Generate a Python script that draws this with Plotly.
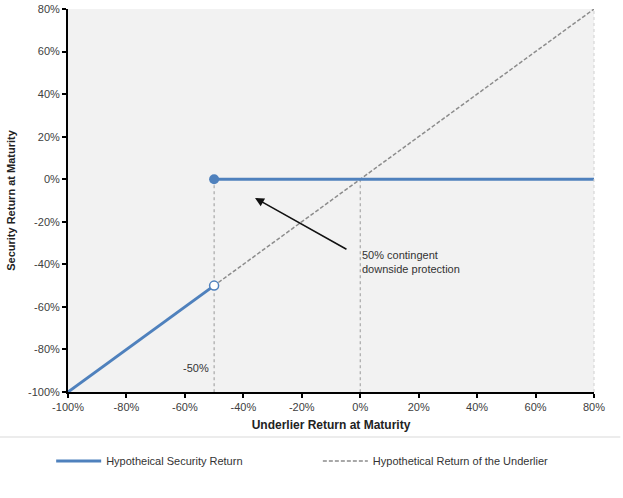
import plotly.graph_objects as go

# --- data (returns in %) ---
security_x = [-100, -50, None, -50, 80]
security_y = [-100, -50, None, 0, 0]
underlier_x = [-100, 80]
underlier_y = [-100, 80]
barrier_x = -50
open_pt = (-50, -50)
closed_pt = (-50, 0)
drop_x = [-50, 0]
drop_top, drop_bottom = 0, -100
ticks = list(range(-100, 81, 20))
tick_labels = [f"{t}%" for t in ticks]

blue = "#4f81bd"
font = "Liberation Sans, Arial, sans-serif"

fig = go.Figure()

fig.add_trace(go.Scatter(
    x=underlier_x, y=underlier_y, mode="lines",
    line=dict(color="#8c8c8c", width=1.5, dash="4px,2px"),
    name="Hypothetical Return of the Underlier", legend="legend2",
))
# dotted drop lines
for dx in drop_x:
    fig.add_trace(go.Scatter(
        x=[dx, dx], y=[drop_top, drop_bottom], mode="lines",
        line=dict(color="#999999", width=1, dash="dot"),
        showlegend=False, hoverinfo="skip",
    ))
fig.add_trace(go.Scatter(
    x=security_x, y=security_y, mode="lines",
    line=dict(color=blue, width=3),
    name="Hypotheical Security Return", legend="legend",
))
fig.add_trace(go.Scatter(
    x=[open_pt[0]], y=[open_pt[1]], mode="markers",
    marker=dict(size=9, color="white", line=dict(color=blue, width=1.5)),
    showlegend=False,
))
fig.add_trace(go.Scatter(
    x=[closed_pt[0]], y=[closed_pt[1]], mode="markers",
    marker=dict(size=10, color=blue),
    showlegend=False,
))

fig.add_annotation(
    x=-36, y=-8.8, ax=-4.2, ay=-33.3, xref="x", yref="y", axref="x", ayref="y",
    showarrow=True, arrowhead=2, arrowsize=1.2, arrowwidth=1.5, arrowcolor="#111111",
    text="",
)
fig.add_annotation(
    x=0, y=-39, xref="x", yref="y", showarrow=False, xanchor="left",
    align="left", text="50% contingent<br>downside protection",
    font=dict(size=11, color="#333333"),
)
fig.add_annotation(
    x=-56.2, y=-88.7, xref="x", yref="y", showarrow=False,
    text=f"{barrier_x}%", font=dict(size=11, color="#333333"),
)

# faint right border + separator above legend
fig.add_shape(type="line", xref="paper", yref="paper", x0=1, x1=1, y0=0, y1=1,
              line=dict(color="#d0d0d0", width=1, dash="dot"))
fig.add_shape(type="line", xref="paper", yref="paper", x0=-0.13, x1=1.05,
              y0=-0.1175, y1=-0.1175, line=dict(color="#d9d9d9", width=1))

legend_style = dict(
    orientation="h", y=-0.18, xanchor="left", yanchor="middle",
    font=dict(size=11, color="#333333"), itemwidth=45, bgcolor="rgba(0,0,0,0)",
)

fig.update_layout(
    width=623, height=498,
    margin=dict(l=68, r=29, t=9, b=106),
    paper_bgcolor="white", plot_bgcolor="#f2f2f2",
    font=dict(family=font, size=11, color="#404040"),
    showlegend=True,
    legend=dict(x=-0.032, **legend_style),
    legend2=dict(x=0.475, **legend_style),
    xaxis=dict(
        range=[-100, 80], tickvals=ticks, ticktext=tick_labels, automargin=False,
        showgrid=False, zeroline=False, showline=True, linecolor="black",
        linewidth=2, ticks="outside", tickcolor="black", ticklen=4, tickwidth=2,
        title=dict(text="<b>Underlier Return at Maturity</b>", font=dict(size=12, color="#222222"),
                   standoff=8),
        tickfont=dict(size=11),
    ),
    yaxis=dict(
        range=[-100, 80], tickvals=ticks, ticktext=tick_labels, automargin=False,
        showgrid=False, zeroline=False, showline=True, linecolor="black",
        linewidth=2, ticks="outside", tickcolor="black", ticklen=4, tickwidth=2,
        title=dict(text="<b>Security Return at Maturity</b>", font=dict(size=11, color="#222222"),
                   standoff=10),
        tickfont=dict(size=11),
    ),
)

# drop the browser's default 8px body margin so the figure sits at the page corner
fig.write_html("out.html", config={"displayModeBar": False},
               post_script="document.body.style.margin='0';")
